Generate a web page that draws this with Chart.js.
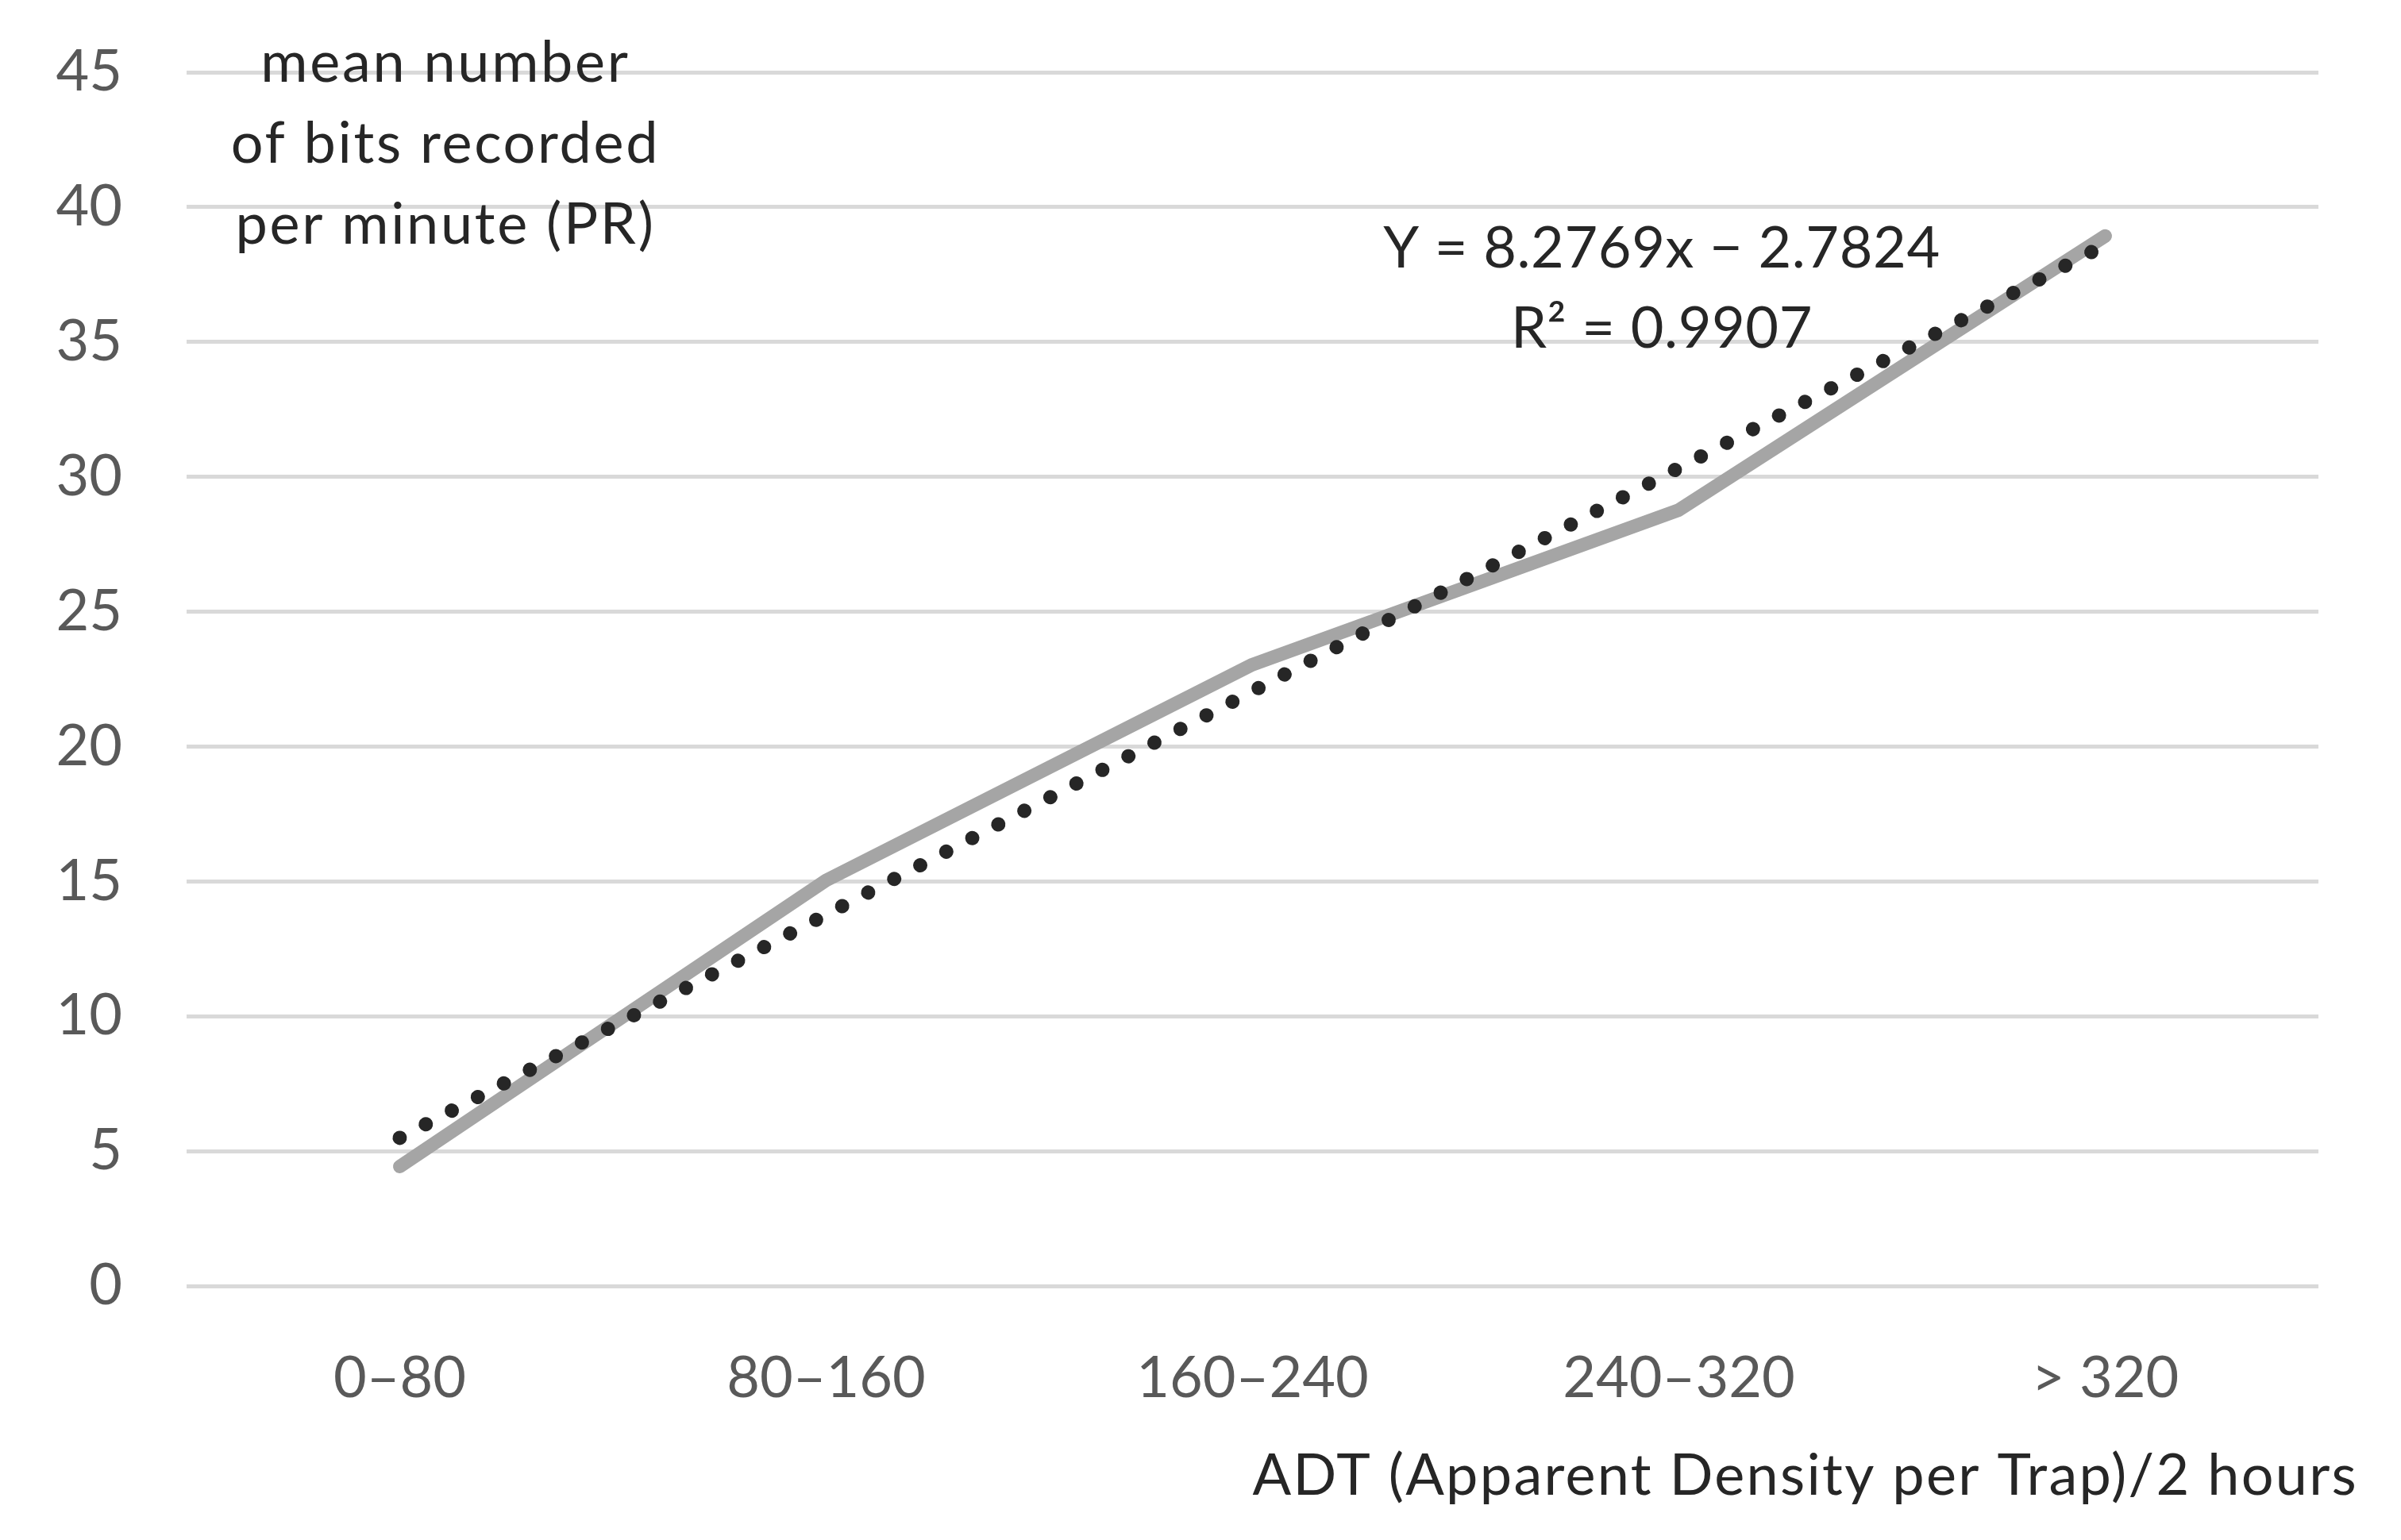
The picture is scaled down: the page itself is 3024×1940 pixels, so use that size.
<!DOCTYPE html>
<html>
<head>
<meta charset="utf-8">
<script src="https://cdn.jsdelivr.net/npm/chart.js@4.4.1/dist/chart.umd.min.js"></script>
<style>
  html, body { margin: 0; padding: 0; background: #ffffff; }
  #wrap { width: 3024px; height: 1940px; }
</style>
</head>
<body>
<div id="wrap"><canvas id="c" width="3024" height="1940"></canvas></div>
<script>
// ---- data ----
const categories = ['0–80', '80–160', '160–240', '240–320', '> 320'];
const prValues = [4.43, 15.04, 23.04, 28.77, 38.93];
const trendValues = [5.49, 13.77, 22.05, 30.33, 38.60];
const yMin = 0;
const yMax = 45;
const yStep = 5;
const yTitleLines = ['mean number', 'of bits recorded', 'per minute (PR)'];
const equationLines = ['Y = 8.2769x − 2.7824', 'R² = 0.9907'];
const xTitle = 'ADT (Apparent Density per Trap)/2 hours';

const FONT = 'Lato';
const FS = 72;

const textPlugin = {
  id: 'annotText',
  afterDraw(chart) {
    const ctx = chart.ctx;
    ctx.save();
    ctx.font = FS + 'px ' + FONT;
    ctx.fillStyle = '#262626';
    ctx.textBaseline = 'alphabetic';
    ctx.textAlign = 'center';
    ctx.letterSpacing = '2.7px';
    const yb = [103, 205, 307];
    yTitleLines.forEach((t, i) => ctx.fillText(t, 561, yb[i]));
    ctx.letterSpacing = '0.6px';
    const eb = [337, 438];
    equationLines.forEach((t, i) => ctx.fillText(t, 2093, eb[i]));
    ctx.letterSpacing = '2.3px';
    ctx.textAlign = 'right';
    ctx.fillText(xTitle, 2970, 1883);
    ctx.restore();
  }
};

function build() {
  new Chart(document.getElementById('c'), {
    type: 'line',
    data: {
      labels: categories,
      datasets: [
        {
          label: 'Trend',
          data: trendValues,
          borderColor: '#262626',
          borderWidth: 18,
          borderDash: [0.001, 37],
          borderCapStyle: 'round',
          pointRadius: 0,
          tension: 0,
          fill: false,
          order: 0
        },
        {
          label: 'PR',
          data: prValues,
          borderColor: '#A5A5A5',
          borderWidth: 17,
          borderCapStyle: 'round',
          borderJoinStyle: 'round',
          pointRadius: 0,
          tension: 0,
          fill: false,
          order: 1
        }
      ]
    },
    options: {
      responsive: false,
      devicePixelRatio: 1,
      animation: false,
      events: [],
      layout: { padding: { left: 0, right: 104, top: 91, bottom: 0 } },
      plugins: {
        legend: { display: false },
        title: { display: false },
        tooltip: { enabled: false }
      },
      scales: {
        x: {
          offset: true,
          grid: { display: false, drawTicks: false },
          border: { display: false },
          ticks: {
            color: '#595959',
            font: { family: FONT, size: FS },
            padding: 74,
            autoSkip: false,
            maxRotation: 0,
            minRotation: 0
          },
          afterFit(scale) { scale.height = 320; scale.paddingLeft = 0; scale.paddingRight = 0; }
        },
        y: {
          min: yMin,
          max: yMax,
          grid: { color: '#D9D9D9', lineWidth: 5, drawTicks: false },
          border: { display: false },
          ticks: {
            stepSize: yStep,
            color: '#595959',
            font: { family: FONT, size: FS },
            padding: 81
          },
          afterFit(scale) { scale.width = 235; scale.paddingTop = 0; scale.paddingBottom = 0; }
        }
      }
    },
    plugins: [textPlugin]
  });
}

if (document.fonts && document.fonts.load) {
  document.fonts.load(FS + 'px ' + FONT).then(build, build);
} else {
  build();
}
</script>
</body>
</html>
